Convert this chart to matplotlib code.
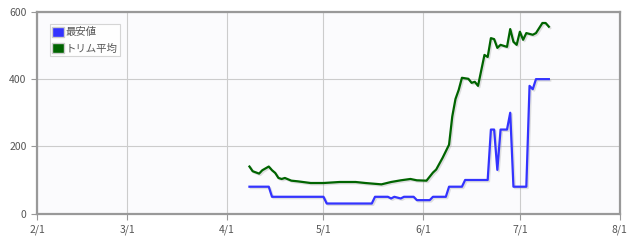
import pandas as pd
import matplotlib
matplotlib.use("Agg")
import matplotlib.pyplot as plt
import matplotlib.dates as mdates
import matplotlib.patheffects as pe
from matplotlib.patches import Patch

plt.rcParams['font.family'] = ['Noto Sans CJK JP', 'DejaVu Sans']

# 最安値 (lowest price)
min_dates = ['04-08', '04-14', '04-15', '05-01', '05-02', '05-16', '05-17', '05-21', '05-22',
             '05-23', '05-25', '05-26', '05-29', '05-30', '06-03', '06-04', '06-08', '06-09',
             '06-13', '06-14', '06-21', '06-22', '06-23', '06-24', '06-25', '06-27', '06-28',
             '06-29', '07-03', '07-04', '07-05', '07-06', '07-10']
min_values = [80, 80, 50, 50, 30, 30, 50, 50, 45,
              50, 45, 50, 50, 40, 40, 50, 50, 80,
              80, 100, 100, 250, 250, 130, 250, 250, 300,
              80, 80, 380, 370, 400, 400]

# トリム平均 (trimmed mean)
trim_dates = ['04-08', '04-09', '04-11', '04-12', '04-14', '04-15', '04-16', '04-17', '04-18',
              '04-19', '04-21', '04-23', '04-27', '05-01', '05-06', '05-11', '05-14', '05-19',
              '05-22', '05-25', '05-28', '05-30', '06-02', '06-04', '06-05', '06-07', '06-09',
              '06-10', '06-11', '06-12', '06-13', '06-15', '06-16', '06-17', '06-18', '06-20',
              '06-21', '06-22', '06-23', '06-24', '06-25', '06-27', '06-28', '06-29', '06-30',
              '07-01', '07-02', '07-03', '07-05', '07-06', '07-08', '07-09', '07-10']
trim_values = [140, 126, 119, 129, 140, 129, 121, 106, 103,
               106, 98, 96, 91, 91, 94, 94, 91, 87,
               94, 99, 103, 99, 98, 122, 131, 166, 205,
               289, 341, 368, 404, 401, 389, 392, 380, 472,
               466, 522, 519, 493, 502, 496, 549, 511, 502,
               541, 517, 537, 532, 537, 567, 567, 556]

year = 2015
tick_dates = ['02-01', '03-01', '04-01', '05-01', '06-01', '07-01', '08-01']
y_ticks = [0, 200, 400, 600]


def to_dt(ds):
    return pd.to_datetime([f'{year}-{d}' for d in ds])


fig = plt.figure(figsize=(6.32, 2.43), dpi=100)
ax = fig.add_axes([0.0585, 0.121, 0.922, 0.830])
ax.set_facecolor('#fbfbfd')

shadow = [pe.SimpleLineShadow(offset=(1.0, -1.0), shadow_color='#999999', alpha=0.3), pe.Normal()]
ax.plot(to_dt(min_dates), min_values, color='#3333ff', lw=1.6, path_effects=shadow, zorder=3)
ax.plot(to_dt(trim_dates), trim_values, color='#006400', lw=1.6, path_effects=shadow, zorder=3)

ax.set_xlim(to_dt(['02-01'])[0], to_dt(['08-01'])[0])
ax.set_ylim(0, 600)
ax.set_xticks(to_dt(tick_dates))
ax.xaxis.set_major_formatter(mdates.DateFormatter('%-m/%-d'))
ax.set_yticks(y_ticks)

ax.grid(True, color='#cccccc', lw=0.8)
for s in ax.spines.values():
    s.set_color('#999999')
    s.set_linewidth(1.6)
ax.tick_params(colors='#999999', labelcolor='#555555', labelsize=7.5, length=4, width=0.8)

handles = [Patch(facecolor='#3333ff', edgecolor='#cccccc', label='最安値'),
           Patch(facecolor='#006400', edgecolor='#cccccc', label='トリム平均')]
leg = ax.legend(handles=handles, loc='upper left', bbox_to_anchor=(0.022, 0.94),
                fontsize=7.5, frameon=True, fancybox=False, handlelength=1.15,
                handleheight=1.15, handletextpad=0.15, borderpad=0.25, labelspacing=0.55,
                borderaxespad=0.0, labelcolor='#555555')
leg.get_frame().set_edgecolor('#cccccc')
leg.get_frame().set_linewidth(0.8)

fig.savefig('out.png', dpi=100)
